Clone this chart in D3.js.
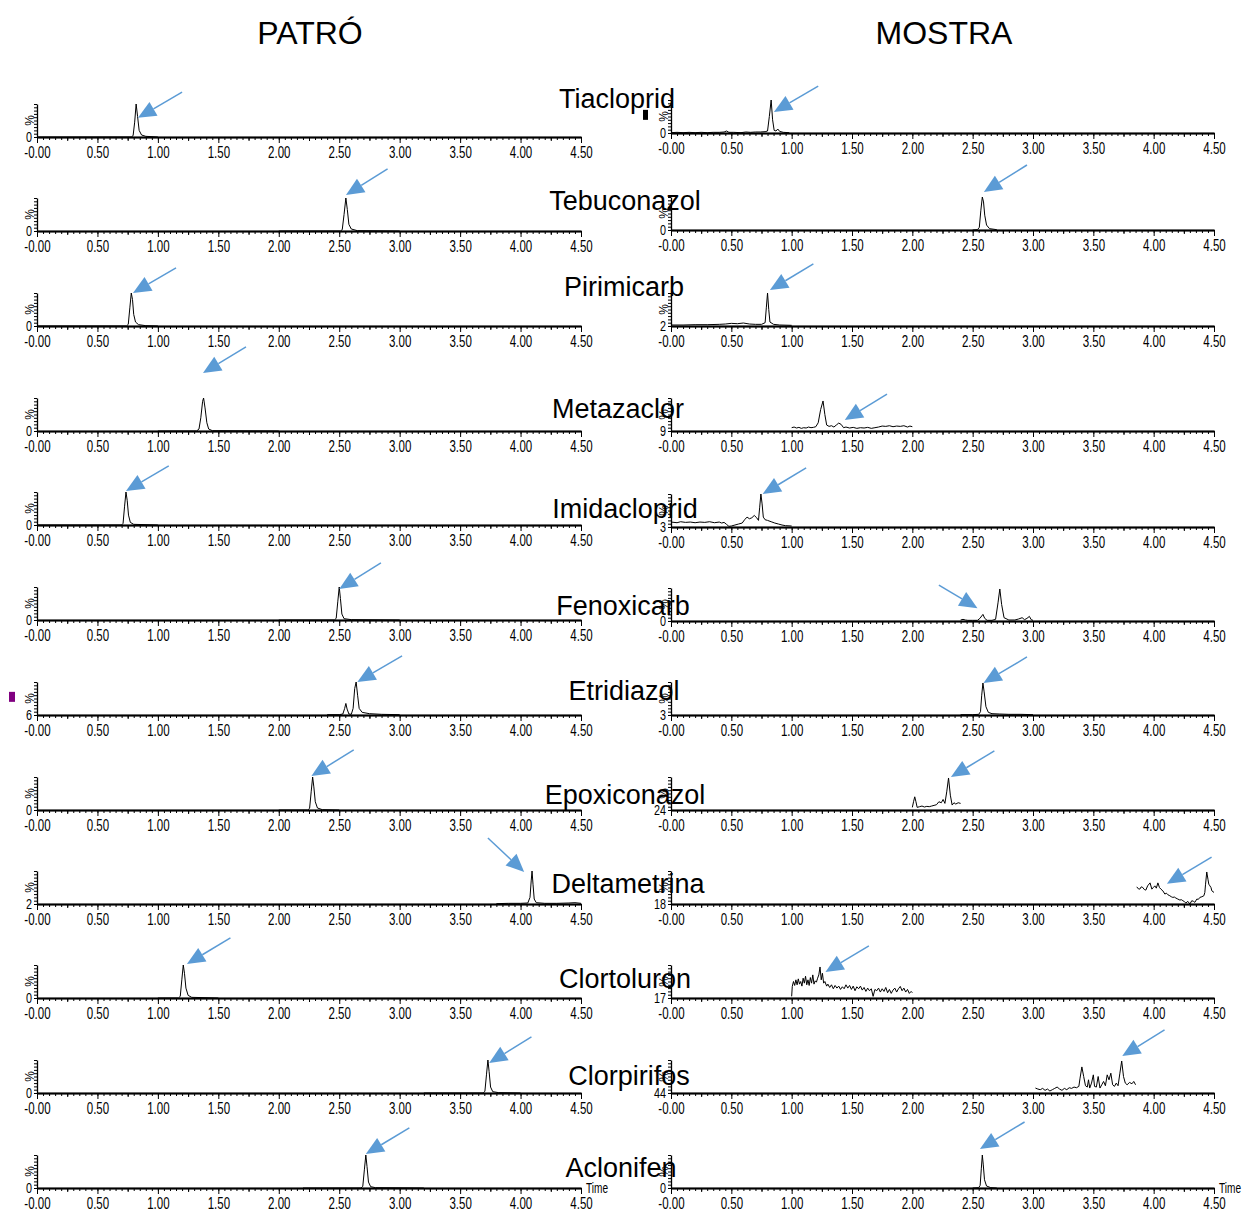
<!DOCTYPE html>
<html>
<head>
<meta charset="utf-8">
<script src="https://cdn.jsdelivr.net/npm/d3@7"></script>
<style>
  body { margin: 0; background: #fff; }
  svg { display: block; }
</style>
</head>
<body>
<div id="chart"></div>
<script>
/* Chromatograms: standard (PATRÓ) vs sample (MOSTRA), twelve compounds,
   retention time in minutes, intensity in % of each trace's maximum. */
var compounds = ["Tiacloprid", "Tebuconazol", "Pirimicarb", "Metazaclor",
  "Imidacloprid", "Fenoxicarb", "Etridiazol", "Epoxiconazol", "Deltametrina",
  "Clortoluron", "Clorpirifos", "Aclonifen"];
var xTicks = [0, 0.5, 1, 1.5, 2, 2.5, 3, 3.5, 4, 4.5];
var patroYLabels = ["0", "0", "0", "0", "0", "0", "6", "0", "2", "0", "0", "0"];
var mostraYLabels = ["0", "0", "2", "9", "3", "0", "3", "24", "18", "17", "44", "0"];

// arrows: [tip time, tip %, tail time, tail %]
var patroArrows = [[0.835, 58, 1.20, 136], [2.556, 109, 2.90, 188], [0.794, 100, 1.15, 176],
  [1.373, 176, 1.729, 255], [0.736, 103, 1.09, 179], [2.50, 94, 2.845, 173],
  [2.65, 100, 3.02, 179], [2.27, 103, 2.62, 182], [4.03, 97, 3.73, 200],
  [1.24, 103, 1.60, 182], [3.74, 91, 4.09, 170], [2.72, 103, 3.08, 182]];
var mostraArrows = [[0.853, 64, 1.22, 142], [2.593, 115, 2.95, 197], [0.82, 109, 1.18, 188],
  [1.44, 33, 1.79, 112], [0.76, 100, 1.12, 179], [2.54, 39, 2.22, 109],
  [2.59, 97, 2.95, 176], [2.32, 100, 2.68, 179], [4.11, 61, 4.48, 142],
  [1.28, 79, 1.64, 158], [3.74, 112, 4.09, 191], [2.56, 118, 2.93, 200]];

// PATRÓ traces [time, %]
var patroTiacloprid = [[0, 0], [0.78, 0], [0.795, 4], [0.808, 45], [0.82, 100], [0.832, 62],
  [0.845, 20], [0.865, 6], [0.90, 2], [1.0, 0]];
var patroTebuconazol = [[2.0, 0], [2.51, 0], [2.525, 4], [2.54, 50], [2.555, 100], [2.567, 65],
  [2.58, 20], [2.60, 6], [2.65, 1], [3.0, 0]];
var patroPirimicarb = [[0, 0], [0.74, 0], [0.755, 5], [0.768, 55], [0.78, 100], [0.79, 80],
  [0.80, 35], [0.815, 12], [0.84, 4], [0.9, 1], [1.0, 0]];
var patroMetazaclor = [[1.0, 0], [1.32, 0], [1.34, 6], [1.355, 40], [1.37, 90], [1.378, 100],
  [1.39, 70], [1.405, 25], [1.42, 6], [1.45, 1], [2.0, 0]];
var patroImidacloprid = [[0, 0], [0.70, 0], [0.712, 5], [0.724, 55], [0.736, 100], [0.746, 75],
  [0.757, 30], [0.772, 8], [0.80, 2], [1.0, 0]];
var patroFenoxicarb = [[2.0, 0], [2.46, 0], [2.475, 5], [2.488, 55], [2.50, 100], [2.51, 65],
  [2.522, 18], [2.54, 4], [2.6, 1], [3.0, 0]];
var patroEtridiazol = [[2.40, 1], [2.50, 1], [2.53, 3], [2.545, 20], [2.555, 35], [2.565, 18],
  [2.58, 3], [2.60, 2], [2.615, 20], [2.628, 80], [2.64, 100], [2.652, 60], [2.665, 20],
  [2.69, 8], [2.75, 4], [2.85, 2], [3.0, 1]];
var patroEpoxiconazol = [[2.0, 0], [2.24, 0], [2.255, 5], [2.268, 55], [2.28, 100], [2.29, 70],
  [2.302, 25], [2.32, 6], [2.36, 1], [2.5, 0]];
var patroDeltametrina = [[3.80, 1], [3.90, 2], [4.00, 2], [4.06, 3], [4.078, 20], [4.088, 70],
  [4.095, 100], [4.103, 60], [4.113, 15], [4.13, 4], [4.2, 2], [4.3, 2], [4.4, 3], [4.45, 4], [4.5, 2]];
var patroClortoluron = [[1.0, 0], [1.17, 0], [1.185, 5], [1.198, 55], [1.21, 100], [1.22, 75],
  [1.232, 30], [1.25, 8], [1.28, 2], [1.5, 0]];
var patroClorpirifos = [[3.2, 0], [3.69, 0], [3.705, 5], [3.718, 55], [3.73, 100], [3.74, 65],
  [3.752, 18], [3.77, 4], [3.82, 1], [4.0, 0]];
var patroAclonifen = [[2.2, 0], [2.68, 0], [2.695, 5], [2.708, 55], [2.72, 100], [2.73, 65],
  [2.742, 18], [2.76, 4], [2.8, 1], [3.2, 0]];

// MOSTRA traces [time, %]
var mostraTiacloprid = [[0, 1], [0.05, 2], [0.10, 1], [0.15, 2], [0.20, 1], [0.25, 2], [0.30, 1],
  [0.35, 2], [0.40, 2], [0.44, 3], [0.46, 6], [0.48, 2], [0.52, 2], [0.58, 1], [0.62, 3],
  [0.66, 2], [0.70, 3], [0.74, 3], [0.78, 4], [0.80, 6], [0.815, 50], [0.83, 100], [0.842, 40],
  [0.855, 8], [0.87, 6], [0.885, 12], [0.90, 5], [0.93, 2], [0.98, 1]];
var mostraTebuconazol = [[2.50, 0], [2.54, 1], [2.555, 8], [2.568, 60], [2.58, 100], [2.59, 85],
  [2.60, 45], [2.615, 15], [2.64, 4], [2.70, 1]];
var mostraPirimicarb = [[0, 3], [0.1, 3], [0.2, 4], [0.3, 4], [0.4, 5], [0.45, 6], [0.5, 8],
  [0.55, 7], [0.6, 9], [0.65, 6], [0.7, 5], [0.75, 5], [0.78, 10], [0.79, 55], [0.80, 100],
  [0.81, 50], [0.82, 12], [0.85, 5], [0.9, 3], [1.0, 2]];
var mostraMetazaclor = [[1.00, 10], [1.02, 12], [1.04, 9], [1.06, 11], [1.08, 8], [1.10, 10],
  [1.12, 9], [1.14, 12], [1.16, 10], [1.18, 11], [1.20, 13], [1.22, 25], [1.24, 65], [1.26, 91],
  [1.275, 50], [1.29, 18], [1.31, 14], [1.33, 16], [1.35, 12], [1.37, 18], [1.39, 24], [1.41, 20],
  [1.43, 10], [1.45, 12], [1.48, 9], [1.51, 11], [1.54, 8], [1.57, 10], [1.60, 9], [1.63, 11],
  [1.66, 8], [1.69, 10], [1.72, 12], [1.75, 15], [1.78, 14], [1.81, 16], [1.84, 13], [1.87, 15],
  [1.90, 14], [1.93, 16], [1.96, 12], [1.98, 15], [2.00, 13]];
var mostraImidacloprid = [[0, 15], [0.05, 13], [0.08, 16], [0.12, 14], [0.16, 15], [0.20, 13],
  [0.24, 15], [0.28, 14], [0.32, 16], [0.36, 13], [0.40, 15], [0.42, 12], [0.44, 14], [0.46, 8],
  [0.48, 2], [0.50, 3], [0.53, 6], [0.56, 9], [0.59, 12], [0.61, 22], [0.63, 30], [0.65, 25],
  [0.67, 28], [0.69, 35], [0.71, 28], [0.725, 20], [0.735, 60], [0.745, 100], [0.755, 70],
  [0.765, 30], [0.78, 22], [0.80, 20], [0.83, 16], [0.86, 12], [0.89, 9], [0.92, 6], [0.95, 4],
  [1.00, 3]];
var mostraFenoxicarb = [[2.40, 3], [2.42, 5], [2.44, 3], [2.46, 2], [2.50, 2], [2.54, 2],
  [2.56, 8], [2.585, 20], [2.60, 8], [2.62, 2], [2.66, 2], [2.69, 5], [2.71, 55], [2.725, 97],
  [2.74, 50], [2.76, 10], [2.80, 3], [2.85, 3], [2.88, 6], [2.91, 10], [2.93, 4], [2.95, 8],
  [2.97, 14], [2.985, 4], [3.00, 2]];
var mostraEtridiazol = [[2.40, 1], [2.50, 1], [2.55, 2], [2.565, 10], [2.575, 60], [2.585, 97],
  [2.595, 70], [2.61, 25], [2.63, 8], [2.66, 4], [2.72, 3], [2.8, 2], [2.9, 2], [3.0, 1]];
var mostraEpoxiconazol = [[2.00, 8], [2.01, 25], [2.02, 40], [2.03, 25], [2.04, 8], [2.06, 10],
  [2.08, 12], [2.10, 9], [2.12, 11], [2.14, 10], [2.16, 12], [2.18, 14], [2.20, 16], [2.22, 25],
  [2.24, 22], [2.255, 32], [2.27, 20], [2.285, 55], [2.30, 97], [2.315, 45], [2.33, 15],
  [2.345, 22], [2.36, 18], [2.38, 22], [2.40, 20]];
var mostraDeltametrina = [[3.86, 52], [3.873, 46], [3.885, 45], [3.897, 52], [3.91, 50],
  [3.922, 44], [3.935, 42], [3.95, 55], [3.97, 64], [3.985, 45], [3.997, 50], [4.01, 55],
  [4.022, 48], [4.035, 64], [4.048, 50], [4.06, 45], [4.076, 40], [4.093, 30], [4.105, 33],
  [4.118, 28], [4.134, 25], [4.146, 22], [4.159, 20], [4.172, 21], [4.184, 18], [4.2, 15],
  [4.217, 12], [4.23, 13], [4.242, 10], [4.255, 7], [4.267, 3], [4.283, 8], [4.3, 0],
  [4.316, 10], [4.33, 8], [4.341, 5], [4.358, 15], [4.37, 14], [4.383, 20], [4.4, 22],
  [4.416, 25], [4.424, 35], [4.43, 60], [4.44, 97], [4.45, 75], [4.457, 60], [4.466, 55],
  [4.475, 50], [4.482, 40], [4.5, 35]];
var mostraClortoluron = [[1.000, 5], [1.005, 35], [1.015, 50], [1.025, 38], [1.035, 55],
  [1.045, 40], [1.055, 58], [1.065, 42], [1.075, 50], [1.085, 36], [1.095, 60], [1.105, 45],
  [1.115, 66], [1.125, 40], [1.135, 55], [1.145, 38], [1.155, 62], [1.165, 45], [1.175, 70],
  [1.185, 42], [1.195, 52], [1.205, 48], [1.215, 60], [1.225, 70], [1.235, 94], [1.245, 55],
  [1.255, 75], [1.265, 45], [1.275, 50], [1.29, 36], [1.30, 42], [1.315, 32], [1.33, 40],
  [1.345, 28], [1.36, 38], [1.375, 30], [1.39, 36], [1.405, 26], [1.42, 34], [1.435, 28],
  [1.45, 40], [1.465, 30], [1.48, 38], [1.495, 26], [1.51, 36], [1.525, 22], [1.54, 34],
  [1.555, 28], [1.57, 36], [1.585, 24], [1.60, 32], [1.615, 20], [1.63, 30], [1.645, 22],
  [1.66, 28], [1.675, 5], [1.69, 26], [1.705, 22], [1.72, 30], [1.735, 18], [1.75, 28],
  [1.765, 20], [1.78, 32], [1.795, 16], [1.81, 26], [1.825, 14], [1.84, 24], [1.855, 30],
  [1.87, 18], [1.885, 28], [1.90, 35], [1.915, 22], [1.93, 30], [1.945, 18], [1.96, 26],
  [1.975, 14], [1.99, 20], [2.00, 16]];
var mostraClorpirifos = [[3.02, 15], [3.04, 12], [3.06, 10], [3.08, 14], [3.10, 8], [3.12, 12],
  [3.14, 6], [3.16, 10], [3.18, 14], [3.20, 18], [3.22, 12], [3.24, 8], [3.26, 14], [3.28, 10],
  [3.30, 16], [3.32, 14], [3.34, 18], [3.36, 16], [3.38, 20], [3.39, 45], [3.405, 79], [3.42, 50],
  [3.435, 22], [3.45, 18], [3.46, 40], [3.47, 15], [3.485, 30], [3.50, 55], [3.51, 20],
  [3.525, 18], [3.54, 50], [3.555, 15], [3.57, 25], [3.585, 35], [3.60, 22], [3.615, 55],
  [3.63, 40], [3.645, 60], [3.66, 25], [3.675, 20], [3.69, 30], [3.705, 22], [3.72, 60],
  [3.735, 97], [3.75, 50], [3.765, 30], [3.78, 25], [3.80, 32], [3.82, 28], [3.835, 35], [3.85, 25]];
var mostraAclonifen = [[2.50, 0], [2.55, 1], [2.562, 8], [2.572, 60], [2.58, 100], [2.588, 70],
  [2.598, 25], [2.615, 6], [2.65, 1], [2.70, 0]];

var patroTraces = [patroTiacloprid, patroTebuconazol, patroPirimicarb, patroMetazaclor,
  patroImidacloprid, patroFenoxicarb, patroEtridiazol, patroEpoxiconazol, patroDeltametrina,
  patroClortoluron, patroClorpirifos, patroAclonifen];
var mostraTraces = [mostraTiacloprid, mostraTebuconazol, mostraPirimicarb, mostraMetazaclor,
  mostraImidacloprid, mostraFenoxicarb, mostraEtridiazol, mostraEpoxiconazol, mostraDeltametrina,
  mostraClortoluron, mostraClorpirifos, mostraAclonifen];

(function () {
  var W = 1242, H = 1211;
  var TICKFONT = "'Liberation Sans', Arial, sans-serif";
  var FONT = "'Liberation Sans', Arial, sans-serif";
  var BLUE = "#5b9bd5";
  var yAxisH = 33;
  var labelX = [617, 625, 624, 618, 625, 623, 624, 625, 628, 625, 629, 621];
  var labelY = [99, 201, 287, 409, 509, 606, 691, 795, 884, 979, 1076, 1168];
  var sides = [
    { title: "PATRÓ", tx: 310, x0: 37, x1: 581, traces: patroTraces,
      yLabels: patroYLabels, arrows: patroArrows, marker: { row: 6, color: "#800080" },
      base: [137, 231, 326, 431, 525, 620, 715, 810, 904, 998, 1093, 1188] },
    { title: "MOSTRA", tx: 944, x0: 671, x1: 1214, traces: mostraTraces,
      yLabels: mostraYLabels, arrows: mostraArrows, marker: { row: 0, color: "#000" },
      base: [133, 230, 326, 431, 527, 621, 715, 810, 904, 998, 1093, 1188] }
  ];
  var minorTicks = d3.range(0, 91).map(function (i) { return i * 0.05; });
  var midTicks = d3.range(0, 9).map(function (i) { return 0.25 + i * 0.5; });
  var yTicks = d3.range(0, 101, 10);
  function fmt(d) { return d === 0 ? "-0.00" : d3.format(".2f")(d); }

  var svg = d3.select("#chart").append("svg")
    .attr("width", W).attr("height", H).attr("viewBox", "0 0 " + W + " " + H);
  svg.append("rect").attr("width", W).attr("height", H).attr("fill", "#fff");

  sides.forEach(function (s) {
    svg.append("text").attr("x", s.tx).attr("y", 33).attr("dy", "0.35em")
      .attr("text-anchor", "middle").attr("font-family", FONT).attr("font-size", 32)
      .text(s.title);

    var x = d3.scaleLinear().domain([0, 4.5]).range([s.x0, s.x1]);
    var line = d3.line().x(function (d) { return x(d[0]); });

    s.base.forEach(function (b, i) {
      var y = d3.scaleLinear().domain([0, 100]).range([b, b - yAxisH]);
      var g = svg.append("g");

      function xAxis(vals, size) {
        var a = g.append("g").attr("transform", "translate(0," + b + ")")
          .call(d3.axisBottom(x).tickValues(vals).tickSize(size).tickSizeOuter(0)
            .tickPadding(4).tickFormat(size === 6 ? fmt : ""));
        a.selectAll("line").attr("stroke", "#000");
        a.select(".domain").attr("stroke", "#000").attr("stroke-width", 1.5);
        a.selectAll("text").attr("class", "tk").attr("font-family", TICKFONT)
          .attr("font-size", 16).attr("fill", "#000");
        return a;
      }
      xAxis(minorTicks, 3);
      xAxis(midTicks, 4);
      xAxis(xTicks, 6);

      var ya = g.append("g").attr("transform", "translate(" + s.x0 + ",0)")
        .call(d3.axisLeft(y).tickValues(yTicks).tickSize(3).tickSizeOuter(0).tickFormat(""));
      ya.selectAll("line").attr("stroke", "#000");
      ya.select(".domain").attr("stroke", "#000").attr("stroke-width", 1.3);

      g.append("text").attr("class", "tk").attr("x", s.x0 - 5).attr("y", b).attr("dy", "0.35em")
        .attr("text-anchor", "end").attr("font-family", TICKFONT).attr("font-size", 15)
        .text(s.yLabels[i]);
      g.append("text")
        .attr("transform", "translate(" + (s.x0 - 7) + "," + y(50) + ") rotate(-90)")
        .attr("dy", "0.35em").attr("text-anchor", "middle")
        .attr("font-family", TICKFONT).attr("font-size", 12).text("%");

      if (i === s.base.length - 1) {
        g.append("text").attr("class", "tk").attr("x", s.x1 + 5).attr("y", b).attr("dy", "0.35em")
          .attr("font-family", TICKFONT).attr("font-size", 14).text("Time");
      }

      if (s.marker.row === i) {
        g.append("rect").attr("x", s.x0 - 28).attr("y", y(55) - 5)
          .attr("width", s.marker.color === "#000" ? 5 : 6).attr("height", 10)
          .attr("fill", s.marker.color);
      }

      g.append("path").datum(s.traces[i])
        .attr("d", line.y(function (d) { return y(d[1]); }))
        .attr("fill", "none").attr("stroke", "#000").attr("stroke-width", 1)
        .attr("stroke-linejoin", "round");

      var a = s.arrows[i];
      var tx = x(a[0]), ty = y(a[1]), sx = x(a[2]), sy = y(a[3]);
      var dx = tx - sx, dy = ty - sy, len = Math.sqrt(dx * dx + dy * dy);
      var ux = dx / len, uy = dy / len, hl = 18, hw = 8;
      var bx = tx - ux * hl, by = ty - uy * hl;
      g.append("line").attr("x1", sx).attr("y1", sy).attr("x2", bx).attr("y2", by)
        .attr("stroke", BLUE).attr("stroke-width", 1.5);
      g.append("path")
        .attr("d", "M" + tx + "," + ty + "L" + (bx - uy * hw) + "," + (by + ux * hw) +
          "L" + (bx + uy * hw) + "," + (by - ux * hw) + "Z")
        .attr("fill", BLUE);
    });
  });

  // condensed look of the instrument's tick font
  svg.selectAll("text.tk").each(function () {
    var w = this.getComputedTextLength();
    if (w > 0) {
      d3.select(this).attr("textLength", w * 0.72).attr("lengthAdjust", "spacingAndGlyphs");
    }
  });

  compounds.forEach(function (c, i) {
    svg.append("text").attr("x", labelX[i]).attr("y", labelY[i]).attr("dy", "0.35em")
      .attr("text-anchor", "middle").attr("font-family", FONT).attr("font-size", 27)
      .attr("fill", "#000").text(c);
  });
})();
</script>
</body>
</html>
